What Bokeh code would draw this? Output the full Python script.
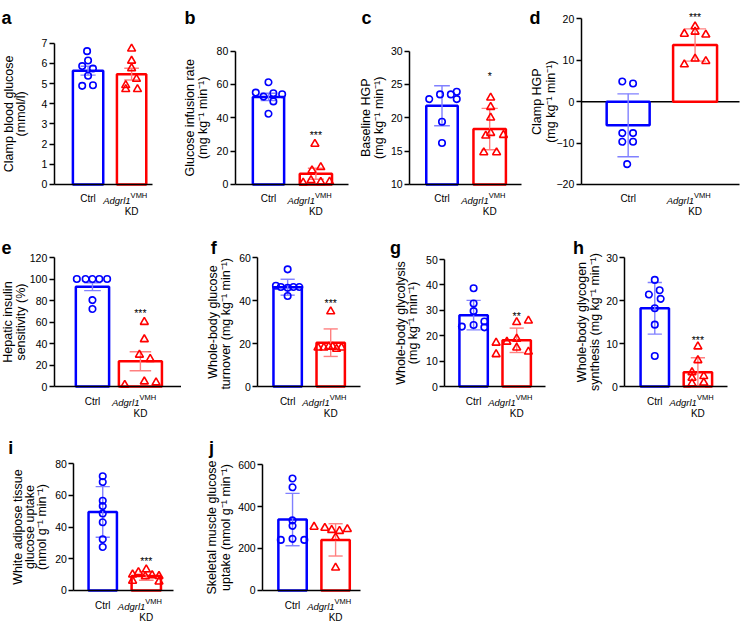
import numpy as np
from bokeh.plotting import figure
from bokeh.layouts import column, row
from bokeh.models import Label, FixedTicker, Range1d
from bokeh.embed import file_html
from bokeh.resources import INLINE

# ---------------- data ----------------
groups = ["Ctrl", "Adgrl1 VMH KD"]

a_mean = [5.64, 5.47]; a_err = [0.22, 0.29]
a_ctrl = [6.61, 6.15, 5.87, 5.75, 5.39, 4.89, 4.92]
a_kd = [6.73, 6.13, 5.76, 5.23, 4.92, 4.72, 4.72]
a_ticks = [0, 1, 2, 3, 4, 5, 6, 7]

b_mean = [52.5, 6.4]; b_err = [2.2, 3.3]
b_ctrl = [61.3, 55.1, 54.7, 54.1, 52.7, 49.8, 42.4]
b_kd = [24.3, 10.3, 8.4, 1.0, 2.5, 1.4, 1.6]
b_ticks = [0, 20, 40, 60, 80]

c_mean = [21.8, 18.3]; c_err = [3.0, 3.1]
c_ctrl = [22.8, 23.5, 23.5, 23.9, 22.8, 19.4, 16.2]
c_kd = [23.0, 21.6, 20.0, 17.7, 17.3, 17.4, 14.8, 14.8]
c_ticks = [10, 15, 20, 25, 30]

d_mean = [-5.7, 13.7]; d_err = [7.6, 3.9]
d_ctrl = [4.9, 4.4, -7.6, -7.6, -9.7, -9.7, -15.1]
d_kd = [18.2, 16.4, 16.9, 16.2, 10.4, 9.0, 9.8]
d_ticks = [-20, -10, 0, 10, 20]

e_mean = [92.9, 23.5]; e_err = [3.7, 8.8]
e_ctrl = [100, 100, 100, 100, 100, 80.4, 72.2]
e_kd = [60, 43.9, 29.5, 25.6, 1.5, 4.6, 3.7]
e_ticks = [0, 20, 40, 60, 80, 100, 120]

f_mean = [46.2, 20.4]; f_err = [3.7, 6.4]
f_ctrl = [54.5, 46.9, 46.3, 45.9, 46.3, 46.3, 42.1]
f_kd = [34.9, 18.1, 18.1, 18.5, 18.5, 17.5, 18.1]
f_ticks = [0, 20, 40, 60]

g_mean = [28.1, 18.2]; g_err = [5.8, 4.8]
g_ctrl = [38.7, 32.7, 29.7, 23.6, 24.2, 25.6, 23.3]
g_kd = [25.3, 25.9, 17.2, 17.6, 18.8, 12.7, 15.3, 13.7]
g_ticks = [0, 10, 20, 30, 40, 50]

h_mean = [18.2, 3.3]; h_err = [6.0, 3.4]
h_ctrl = [24.8, 21.4, 22.4, 20.4, 18.2, 14.4, 7.1]
h_kd = [9.3, 6.1, 3.3, 2.4, 2.0, 0.9, 0.7]
h_ticks = [0, 10, 20, 30]

i_mean = [49.5, 9.1]; i_err = [16.0, 2.7]
i_ctrl = [72.1, 68.4, 56.6, 53.2, 48.5, 43.0, 32.3, 27.4]
i_kd = [13.2, 11.5, 10.0, 9.5, 8.8, 9.0, 6.0, 5.5]
i_ticks = [0, 20, 40, 60, 80]

j_mean = [338, 241]; j_err = [125, 77]
j_ctrl = [534, 492, 334, 308, 241, 246, 241]
j_kd = [303, 298, 288, 283, 292, 252, 108]
j_ticks = [0, 200, 400, 600]

# significance marks and their heights (data units)
stars = {"b": ("***", 30.7), "c": ("*", 26.5), "d": ("***", 20.9), "e": ("***", 70),
         "f": ("***", 39.8), "g": ("**", 28.7), "h": ("***", 11.3), "i": ("***", 19.7)}

ylabels = {
    "a": ["Clamp blood glucose", "(mmol/l)"],
    "b": ["Glucose infusion rate", "(mg kg\u207b\u00b9 min\u207b\u00b9)"],
    "c": ["Baseline HGP", "(mg kg\u207b\u00b9 min\u207b\u00b9)"],
    "d": ["Clamp HGP", "(mg kg\u207b\u00b9 min\u207b\u00b9)"],
    "e": ["Hepatic insulin", "sensitivity (%)"],
    "f": ["Whole-body glucose", "turnover  (mg kg\u207b\u00b9 min\u207b\u00b9)"],
    "g": ["Whole-body glycolysis", "(mg kg\u207b\u00b9 min\u207b\u00b9)"],
    "h": ["Whole-body glycogen", "synthesis (mg kg\u207b\u00b9 min\u207b\u00b9)"],
    "i": ["White adipose tissue", "glucose uptake", "(nmol g\u207b\u00b9 min\u207b\u00b9)"],
    "j": ["Skeletal muscle glucose", "uptake (nmol g\u207b\u00b9 min\u207b\u00b9)"],
}

# ---------------- layout (reference pixel geometry) ----------------
SX = 740 / 756
SY = 624 / 640
X = lambda v: int(round(v * SX))
Y = lambda v: int(round(v * SY))

R1, R2, R3 = (0, 222), (222, 442), (442, 640)
geo = {
    "a": dict(box=(0, 185) + R1, frame=(55, 155, 44, 189), cen=(89.5, 134), bw=(31, 30), yr=(0, 7), base=0,
              letter=(1, 18), ylx=(8.5, 21), jc=[-1, 0, -6, 5, 0, -6, 5], jk=[0, 0, 0, 5, -6, -6, 6]),
    "b": dict(box=(185, 362) + R1, frame=(240, 356, 52, 189), cen=(274, 322.5), bw=(32, 33), yr=(0, 80), base=0,
              letter=(188, 18), ylx=(194, 207.5), jc=[0, -13, 5, 14, -5, 5, 0], jk=[-1, 5, -4, -13, -5, 5, 14]),
    "c": dict(box=(362, 540) + R1, frame=(418, 532, 52, 189), cen=(451, 499.5), bw=(32, 33), yr=(10, 30), base=10,
              letter=(369, 18), ylx=(374, 387), jc=[-13, -2, 9, 15, 15, 0, 0], jk=[1, 1, 1, 1, -4, 14, -6, 7]),
    "d": dict(box=(540, 756) + R1, frame=(593, 755, 19, 189), cen=(641, 709.5), bw=(44, 45), yr=(-20, 20), base=0,
              letter=(540, 18), ylx=(548, 562), jc=[-6, 5, -6, 5, -6, 5, -1], jk=[0, -11, 0, 11, 0, -11, 11]),
    "e": dict(box=(0, 185) + R2, frame=(55, 185, 264, 396), cen=(94, 143), bw=(34, 44), yr=(0, 120), base=0,
              letter=(1, 254), ylx=(8, 20.5), jc=[-16, -7, 0, 7, 15, 0, 0], jk=[4, 4, -1, 10, -16, 4, 16]),
    "f": dict(box=(185, 370) + R2, frame=(263, 368, 264, 396), cen=(293.5, 337.5), bw=(29, 29), yr=(0, 60), base=0,
              letter=(215, 254), ylx=(217.5, 230.5), jc=[0, -12, -7, 0, 6, 12, 0], jk=[0, -13, -7, -2, 2, 6, 11]),
    "g": dict(box=(370, 560) + R2, frame=(454, 557, 266, 396), cen=(483.5, 527.5), bw=(29, 29), yr=(0, 50), base=0,
              letter=(398, 254), ylx=(409, 422), jc=[0, 0, 0, -12, 0, 11, 11], jk=[0, 12, -21, -10, 0, -21, 0, 12]),
    "h": dict(box=(560, 756) + R2, frame=(638, 743, 264, 396), cen=(668.5, 712.5), bw=(29, 29), yr=(0, 30), base=0,
              letter=(585, 254), ylx=(594, 607), jc=[0, -6, 5, 6, 0, 0, 0], jk=[0, 0, -6, 6, -6, 6, -6]),
    "i": dict(box=(0, 185) + R3, frame=(75, 177, 475, 605), cen=(104.5, 149), bw=(29, 30), yr=(0, 80), base=0,
              letter=(8, 459), ylx=(17.5, 30, 42.5), jc=[0, 0, 0, 0, 0, 0, 0, 0], jk=[0, -8, -14, 6, -1, 13, -14, 13]),
    "j": dict(box=(185, 370) + R3, frame=(268, 368, 476, 605), cen=(298.5, 342.5), bw=(29, 29), yr=(0, 600), base=0,
              letter=(213, 459), ylx=(216, 230), jc=[0, 0, 0, 0, -12, 0, 12], jk=[-22, -11, -4, 4, 12, 0, 0]),
}

data = {
    "a": (a_mean, a_err, a_ctrl, a_kd, a_ticks), "b": (b_mean, b_err, b_ctrl, b_kd, b_ticks),
    "c": (c_mean, c_err, c_ctrl, c_kd, c_ticks), "d": (d_mean, d_err, d_ctrl, d_kd, d_ticks),
    "e": (e_mean, e_err, e_ctrl, e_kd, e_ticks), "f": (f_mean, f_err, f_ctrl, f_kd, f_ticks),
    "g": (g_mean, g_err, g_ctrl, g_kd, g_ticks), "h": (h_mean, h_err, h_ctrl, h_kd, h_ticks),
    "i": (i_mean, i_err, i_ctrl, i_kd, i_ticks), "j": (j_mean, j_err, j_ctrl, j_kd, j_ticks),
}

BLUE, RED = "#0000ff", "#ff0000"
BLUE_E, RED_E = "#8080ff", "#ff8080"
FONT = "Liberation Sans"


def make_panel(key):
    g = geo[key]
    mean, err, ctrl, kd, ticks = data[key]
    bx0, bx1, by0, by1 = g["box"]
    fx0, fx1, fy0, fy1 = g["frame"]
    c1, c2 = g["cen"]
    ppu = c2 - c1
    y0, y1 = g["yr"]
    ypp = (y1 - y0) / (fy1 - fy0)
    dx = lambda px: 1 + (px - c1) / ppu          # reference px -> data x
    dy = lambda py: y0 + (fy1 - py) * ypp         # reference px -> data y

    p = figure(width=X(bx1) - X(bx0), height=Y(by1) - Y(by0),
               x_range=Range1d(dx(bx0), dx(bx1)), y_range=Range1d(dy(by1), dy(by0)),
               output_backend="svg", toolbar_location=None,
               min_border_left=0, min_border_right=0, min_border_top=0, min_border_bottom=0,
               outline_line_color=None)
    p.xgrid.visible = False
    p.ygrid.visible = False

    # axes, pinned to the plotting area of the panel
    ya = p.yaxis[0]
    ya.fixed_location = dx(fx0)
    ya.bounds = (y0, y1)
    ya.ticker = FixedTicker(ticks=ticks)
    ya.major_label_text_font = FONT
    ya.major_label_text_font_size = "10.5px"
    ya.major_label_text_color = "black"
    ya.major_label_standoff = 2
    ya.major_tick_out = 5
    ya.major_tick_in = 0
    ya.minor_tick_out = 0
    ya.minor_tick_in = 0
    ya.major_tick_line_width = 1.3
    ya.axis_line_width = 1.5
    xa = p.xaxis[0]
    xa.fixed_location = y0
    xa.bounds = (dx(fx0), dx(fx1))
    xa.ticker = FixedTicker(ticks=[])
    xa.major_label_text_font_size = "0px"
    xa.major_tick_out = 0
    xa.minor_tick_out = 0
    xa.axis_line_width = 1.5

    if key == "d":  # zero line
        p.segment(x0=[dx(fx0)], x1=[dx(fx1)], y0=[0], y1=[0], line_color="black", line_width=1.5)

    # bars
    bw = [w / ppu for w in g["bw"]]
    p.vbar(x=[1, 2], width=bw, top=mean, bottom=g["base"], fill_color="white",
           line_color=[BLUE, RED], line_width=2.5)

    # error bars
    lo = [m - e for m, e in zip(mean, err)]
    hi = [m + e for m, e in zip(mean, err)]
    cw = [w * 0.25 for w in bw]
    p.segment(x0=[1, 2], x1=[1, 2], y0=lo, y1=hi, line_color=[BLUE_E, RED_E], line_width=1.4)
    for yy in (lo, hi):
        p.segment(x0=[1 - cw[0], 2 - cw[1]], x1=[1 + cw[0], 2 + cw[1]], y0=yy, y1=yy,
                  line_color=[BLUE_E, RED_E], line_width=1.4)

    # individual animals
    p.scatter(x=[1 + j / ppu for j in g["jc"]], y=ctrl, marker="circle", size=6.5,
              fill_color=None, line_color=BLUE, line_width=1.6)
    p.scatter(x=[2 + j / ppu for j in g["jk"]], y=kd, marker="triangle", size=8,
              fill_color=None, line_color=RED, line_width=1.6)

    def lab(x, y, text, size, align="center", base="alphabetic", style="normal", angle=0, yoff=0):
        p.add_layout(Label(x=x, y=y, text=text, text_font=FONT, text_font_size=size,
                           text_font_style=style, text_align=align, text_baseline=base,
                           angle=angle, y_offset=yoff, text_color="black"))

    # panel letter
    lx, lb = g["letter"]
    lab(dx(lx), dy(lb), key, "18px", align="left", style="bold")

    # y-axis title lines
    for txt, lxc in zip(ylabels[key], g["ylx"]):
        lab(dx(lxc), dy((fy0 + fy1) / 2), txt, "12.5px", base="middle", angle=np.pi / 2)

    # category labels
    lab(1, dy(fy1 + 15), groups[0], "10px")
    lab(dx(c2 - 1), dy(fy1 + 16.5), "Adgrl1", "9.5px", align="right", style="italic")
    lab(dx(c2 - 1), dy(fy1 + 11), "VMH", "7.5px", align="left")
    lab(2, dy(fy1 + 28), "KD", "10px")

    if key in stars:
        s, sy = stars[key]
        lab(2, sy, s, "10.5px", base="middle", yoff=-2)
    return p


panels = {k: make_panel(k) for k in "abcdefghij"}
layout = column(row(panels["a"], panels["b"], panels["c"], panels["d"]),
                row(panels["e"], panels["f"], panels["g"], panels["h"]),
                row(panels["i"], panels["j"]))

with open("out.html", "w") as fh:
    fh.write(file_html(layout, INLINE))
